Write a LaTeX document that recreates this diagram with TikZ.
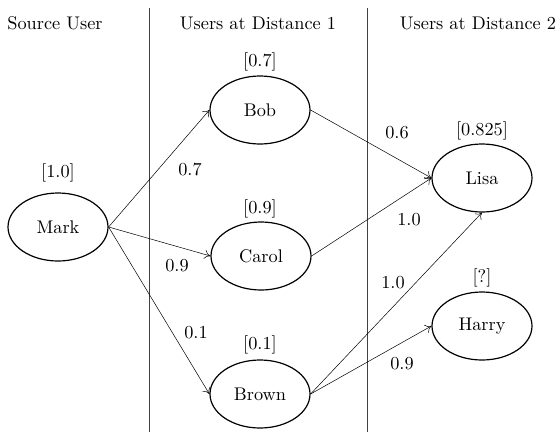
\documentclass[tikz,border=0pt]{standalone}
\usepackage{graphicx}
\usetikzlibrary{shapes.geometric,arrows.meta}
\newcommand\bigtxt[1]{\scalebox{1.83}{#1}}
\begin{document}
\begin{tikzpicture}[x=1pt,y=-1pt,
  every node/.style={inner sep=0pt},
  user/.style={ellipse, draw, line width=1.2pt, minimum width=100pt, minimum height=68pt},
  edge/.style={line width=0.5pt, -{To[length=6pt,width=9pt]}},
  sep/.style={line width=0.8pt, draw=black!75}]
\useasboundingbox (0,0) rectangle (558,432);
% column separators
\coordinate (s1t) at (149,8);
\coordinate (s1b) at (149,432);
\coordinate (s2t) at (367,8);
\coordinate (s2b) at (367,432);
\draw[sep] (s1t) -- (s1b);
\draw[sep] (s2t) -- (s2b);
% headers
\node (h0) at (55,23) {\bigtxt{Source User}};
\node (h1) at (258,23) {\bigtxt{Users at Distance 1}};
\node (h2) at (478,23) {\bigtxt{Users at Distance 2}};
% users
\node[user] (mark) at (58,227) {\bigtxt{Mark}};
\node[user] (bob) at (260,110) {\bigtxt{Bob}};
\node[user] (carol) at (261,256) {\bigtxt{Carol}};
\node[user] (brown) at (260,394) {\bigtxt{Brown}};
\node[user] (lisa) at (482,178) {\bigtxt{Lisa}};
\node[user] (harry) at (482,326) {\bigtxt{Harry}};
% scores
\node (smark) at (58,173) {\bigtxt{[1.0]}};
\node (sbob) at (260,62) {\bigtxt{[0.7]}};
\node (scarol) at (260,209) {\bigtxt{[0.9]}};
\node (sbrown) at (260,345) {\bigtxt{[0.1]}};
\node (slisa) at (482,131) {\bigtxt{[0.825]}};
\node (sharry) at (482,278) {\bigtxt{[?]}};
% edges
\draw[edge] (mark.east) -- (bob.west);
\draw[edge] (mark.east) -- (carol.west);
\draw[edge] (mark.east) -- (brown.west);
\draw[edge] (bob.east) -- (lisa.west);
\draw[edge] (carol.east) -- (lisa.west);
\draw[edge] (brown.east) -- (lisa.south);
\draw[edge] (brown.east) -- (harry.west);
% edge labels
\node (w1) at (190,170) {\bigtxt{0.7}};
\node (w2) at (177,266) {\bigtxt{0.9}};
\node (w3) at (196,333) {\bigtxt{0.1}};
\node (w4) at (397,133) {\bigtxt{0.6}};
\node (w5) at (409,220) {\bigtxt{1.0}};
\node (w6) at (393,283) {\bigtxt{1.0}};
\node (w7) at (402,364) {\bigtxt{0.9}};
\end{tikzpicture}
\end{document}
